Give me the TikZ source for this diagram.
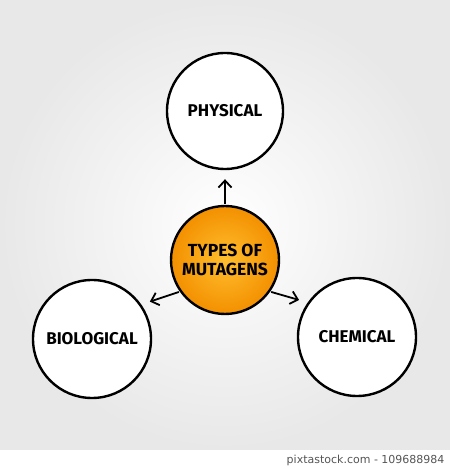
\documentclass[tikz,border=0pt]{standalone}
\usepackage{fontspec}
\setmainfont{Fira Sans}
\newfontfamily\markfont{Fira Sans}
\newfontfamily\wmfont{DejaVu Sans}
\usetikzlibrary{arrows.meta}
\definecolor{bgedge}{HTML}{E8E8E8}
\definecolor{orin}{HTML}{FFBE2E}
\definecolor{orout}{HTML}{F39000}
\definecolor{wmgray}{HTML}{555555}
\tikzset{
  bubble/.style={circle, draw=black, line width=2.4pt, fill=white, minimum size=#1, inner sep=0pt,
    font=\markfont\bfseries\fontsize{17}{18}\selectfont, align=center},
  hub/.style={circle, draw=black, line width=2.4pt, inner color=orin, outer color=orout, minimum size=108pt, inner sep=0pt,
    font=\markfont\bfseries\fontsize{17.5}{19}\selectfont, align=center},
  link/.style={line width=1.8pt, -{Straight Barb[length=7pt,width=13pt,line width=1.8pt]}, shorten >=9pt, shorten <=1pt}
}
\begin{document}
\begin{tikzpicture}[x=1pt,y=1pt]
\useasboundingbox (0,0) rectangle (450,469);
\fill[white] (0,0) rectangle (450,469);
\shade[inner color=white, outer color=bgedge] (0,19) rectangle (450,469);
\node[bubble=116pt] (phys) at (225,358) {PHYSICAL};
\node[bubble=118pt] (bio) at (92,130) {BIOLOGICAL};
\node[bubble=118pt] (chem) at (357,132) {CHEMICAL};
\node[hub] (hub) at (225,209) {TYPES OF\\MUTAGENS};
\draw[link] (hub.north) -- (phys.south);
\draw[link] (hub.-145) -- (bio.35);
\draw[link] (hub.-35) -- (chem.145);
\node[anchor=east, text=wmgray, font=\wmfont\fontsize{11}{12}\selectfont] (wm) at (448,9) {pixtastock.com - 109688984};
\end{tikzpicture}
\end{document}
